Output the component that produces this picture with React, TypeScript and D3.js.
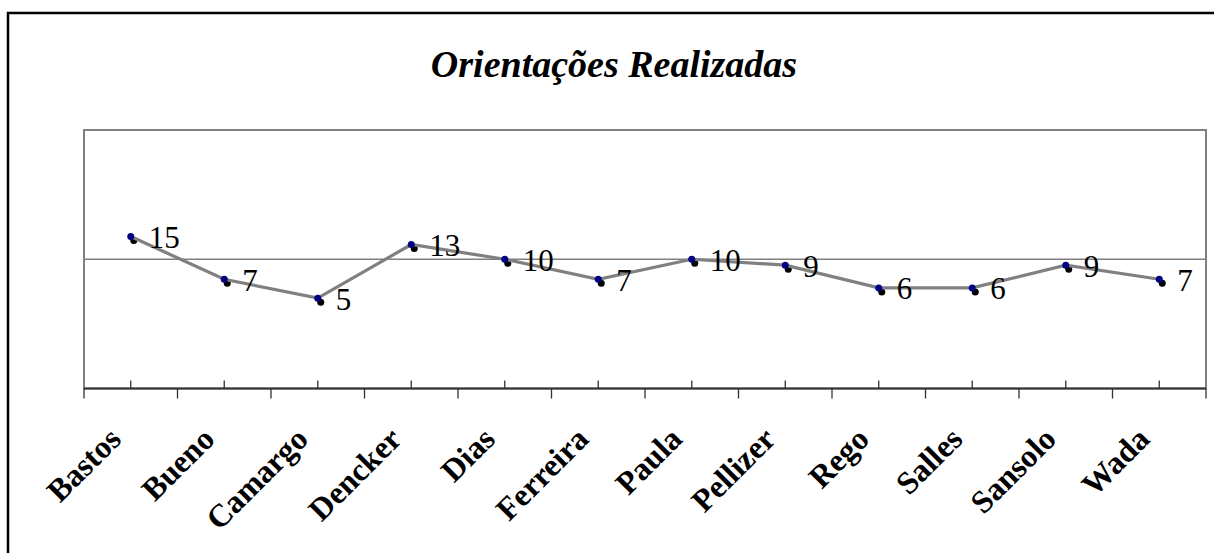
import * as d3 from 'd3';

const width = 1214;
const height = 553;
const plotLeft = 84;
const plotRight = 1206;
const plotTop = 130;
const plotBottom = 388.5;

const title = 'Orientações Realizadas';
const categories = [
  'Bastos',
  'Bueno',
  'Camargo',
  'Dencker',
  'Dias',
  'Ferreira',
  'Paula',
  'Pellizer',
  'Rego',
  'Salles',
  'Sansolo',
  'Wada',
];
const values = [15, 7, 5, 13, 10, 7, 10, 9, 6, 6, 9, 7];
const gridValues = [10];
const serif = 'Liberation Serif, Times New Roman, serif';

export default function App() {
  // eixo x por categoria
  const x = d3.scaleBand<string>().domain(categories).range([plotLeft, plotRight]).padding(0);
  const cx = (c: string) => (x(c) ?? 0) + x.bandwidth() / 2;

  // eixo y logarítmico (1 a 100)
  const y = d3.scaleLog().domain([1, 100]).range([plotBottom, plotTop]);

  const points = categories.map((c, i) => ({ c, v: values[i] }));
  const line = d3
    .line<{ c: string; v: number }>()
    .x((d) => cx(d.c))
    .y((d) => y(d.v));

  const boundaries = [...categories.map((c) => x(c) ?? 0), plotRight];

  return (
    <svg
      width={width}
      height={height}
      style={{ position: 'absolute', left: 0, top: 0, background: '#fff' }}
    >
      {/* moldura externa */}
      <rect x={8} y={13} width={1230} height={570} fill="#fff" stroke="#000" strokeWidth={2.5} />

      <text
        x={614}
        y={77}
        textAnchor="middle"
        fontFamily={serif}
        fontSize={38}
        fontWeight="bold"
        fontStyle="italic"
      >
        {title}
      </text>

      {/* área do gráfico */}
      <rect
        x={plotLeft}
        y={plotTop}
        width={plotRight - plotLeft}
        height={plotBottom - plotTop}
        fill="#fff"
        stroke="#808080"
        strokeWidth={2}
      />
      {gridValues.map((g) => (
        <line key={g} x1={plotLeft} x2={plotRight} y1={y(g)} y2={y(g)} stroke="#808080" strokeWidth={1.5} />
      ))}

      {/* eixo x */}
      <line x1={plotLeft} x2={plotRight} y1={plotBottom} y2={plotBottom} stroke="#333" strokeWidth={2} />
      {boundaries.map((b, i) => (
        <line key={'b' + i} x1={b} x2={b} y1={plotBottom} y2={plotBottom + 10} stroke="#333" strokeWidth={1.3} />
      ))}
      {categories.map((c) => (
        <line key={'t' + c} x1={cx(c)} x2={cx(c)} y1={plotBottom - 8} y2={plotBottom} stroke="#333" strokeWidth={1.3} />
      ))}
      {categories.map((c) => (
        <text
          key={'l' + c}
          transform={`translate(${cx(c) - 8},${441}) rotate(-45)`}
          textAnchor="end"
          fontFamily={serif}
          fontSize={32}
          fontWeight="bold"
        >
          {c}
        </text>
      ))}

      {/* sombra dos marcadores */}
      {points.map((d) => (
        <circle key={'s' + d.c} cx={cx(d.c) + 3} cy={y(d.v) + 4} r={3.5} fill="#000" />
      ))}
      <path d={line(points) ?? ''} fill="none" stroke="#808080" strokeWidth={3.2} />
      {points.map((d) => (
        <circle key={'p' + d.c} cx={cx(d.c)} cy={y(d.v)} r={3.5} fill="#000080" />
      ))}
      {points.map((d) => (
        <text key={'v' + d.c} x={cx(d.c) + 18} y={y(d.v) + 11.5} fontFamily={serif} fontSize={31}>
          {d.v}
        </text>
      ))}
    </svg>
  );
}
